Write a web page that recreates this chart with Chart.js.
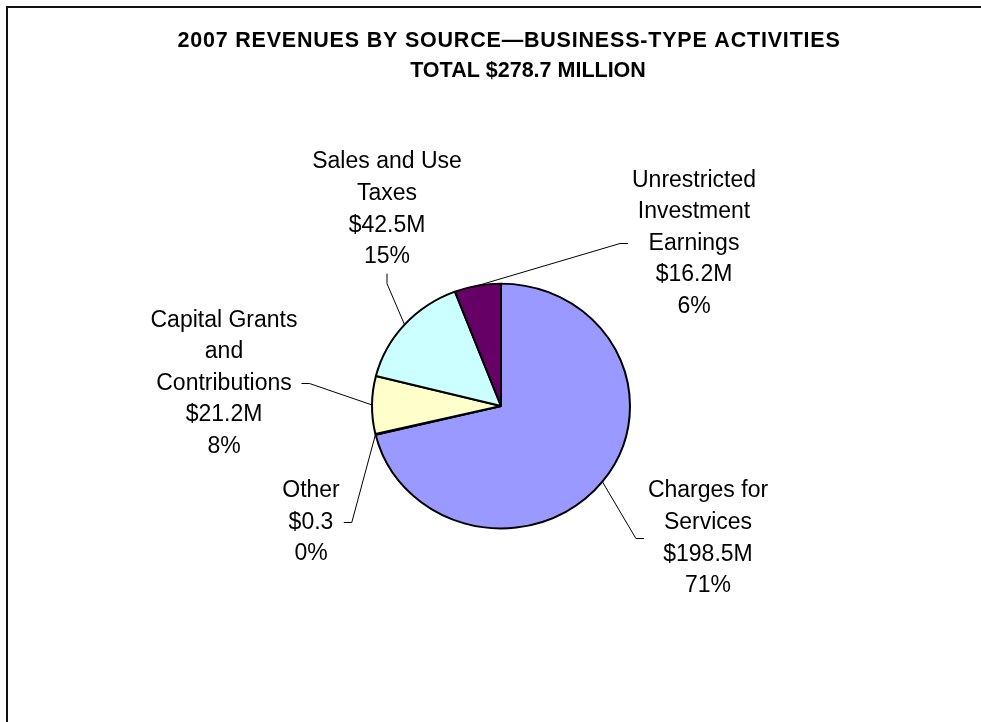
<!DOCTYPE html>
<html>
<head>
<meta charset="utf-8">
<title>2007 Revenues by Source - Business-Type Activities</title>
<script src="https://cdn.jsdelivr.net/npm/chart.js@4.4.1/dist/chart.umd.min.js"></script>
<style>
  html, body { margin: 0; padding: 0; background: #fff; overflow: hidden; }
  #wrap { position: relative; width: 981px; height: 722px; overflow: hidden; }
  #frame { position: absolute; left: 6px; top: 6px; width: 1200px; height: 1200px; border: 2px solid #111; }
  #myChart { position: absolute; left: 0; top: 0; }
</style>
</head>
<body>
<div id="wrap">
  <div id="frame"></div>
  <canvas id="myChart" width="981" height="722"></canvas>
</div>
<script>
var titleLines = ["2007 REVENUES BY SOURCE\u2014BUSINESS-TYPE ACTIVITIES", "TOTAL $278.7 MILLION"];

// slices, clockwise from 12 o'clock
var categories = [
  ["Charges for", "Services"],
  ["Other"],
  ["Capital Grants", "and", "Contributions"],
  ["Sales and Use", "Taxes"],
  ["Unrestricted", "Investment", "Earnings"]
];
var values = [198.5, 0.3, 21.2, 42.5, 16.2]; // $ millions
var colors = ["#9999FF", "#993366", "#FFFFCC", "#CCFFFF", "#660066"];

// label block centre, offset from the pie centre, and which side the leader leaves from
var labelOffsets = [[207, 132.5], [-190, 116.5], [-277, -22.5], [-114, -196.5], [193, -162.5]];
var labelSides = ["right", "left", "left", "bottom", "right"];

var squashY = 0.949;   // the original pie is a touch flatter than round
var lineH = 31.6;

function fmtValue(v) {
  return "$" + v.toFixed(1) + (v >= 1 ? "M" : "");
}

var pieDecor = {
  id: "pieDecor",
  beforeDatasetsDraw: function (chart) {
    var arc = chart.getDatasetMeta(0).data[0];
    var ctx = chart.ctx;
    ctx.save();
    ctx.translate(arc.x, arc.y);
    ctx.scale(1, squashY);
    ctx.translate(-arc.x, -arc.y);
  },
  afterDatasetsDraw: function (chart) {
    var ctx = chart.ctx;
    ctx.restore();

    var meta = chart.getDatasetMeta(0);
    var total = values.reduce(function (a, b) { return a + b; }, 0);

    ctx.save();
    ctx.fillStyle = "#000";
    ctx.strokeStyle = "#000";
    ctx.lineWidth = 1;
    ctx.textAlign = "center";
    ctx.textBaseline = "middle";

    // title
    ctx.font = 'bold 21.5px "Liberation Sans", Arial, sans-serif';
    ctx.letterSpacing = "0.8px";
    ctx.fillText(titleLines[0], 509, 41.5);
    ctx.letterSpacing = "0px";
    ctx.fillText(titleLines[1], 528, 71);

    ctx.font = '23px "Liberation Sans", Arial, sans-serif';
    meta.data.forEach(function (arc, i) {
      var lines = categories[i].slice();
      lines.push(fmtValue(values[i]));
      lines.push(Math.round(values[i] / total * 100) + "%");

      var cx = arc.x + labelOffsets[i][0];
      var cy = arc.y + labelOffsets[i][1];
      var h = lines.length * lineH;
      var top = cy - h / 2;
      var w = Math.max.apply(null, lines.map(function (t) { return ctx.measureText(t).width; }));

      lines.forEach(function (t, k) {
        ctx.fillText(t, cx, top + lineH * (k + 0.5));
      });

      // leader line to the middle of the slice edge
      var mid = (arc.startAngle + arc.endAngle) / 2;
      var ex = arc.x + arc.outerRadius * Math.cos(mid);
      var ey = arc.y + arc.outerRadius * squashY * Math.sin(mid);
      var p0, p1;
      if (labelSides[i] === "left") {
        p0 = [cx + w / 2 + 4, cy];
        p1 = [p0[0] + 8, cy];
      } else if (labelSides[i] === "right") {
        p0 = [cx - w / 2 - 4, cy];
        p1 = [p0[0] - 8, cy];
      } else {
        p0 = [cx, top + h + 1];
        p1 = [cx, top + h + 11];
      }
      ctx.beginPath();
      ctx.moveTo(p0[0], p0[1]);
      ctx.lineTo(p1[0], p1[1]);
      ctx.lineTo(ex, ey);
      ctx.stroke();
    });
    ctx.restore();
  }
};

var ctx = document.getElementById("myChart").getContext("2d");
var myChart = new Chart(ctx, {
  type: "pie",
  data: {
    labels: categories.map(function (c) { return c.join(" "); }),
    datasets: [
      {
        data: values,
        backgroundColor: colors,
        borderColor: "#000",
        borderWidth: 2
      }
    ]
  },
  options: {
    responsive: false,
    animation: false,
    events: [],
    radius: 129,
    layout: { padding: { top: 90, left: 21, right: 0, bottom: 0 } },
    plugins: {
      legend: { display: false },
      title: { display: false },
      tooltip: { enabled: false }
    }
  },
  plugins: [pieDecor]
});
</script>
</body>
</html>
